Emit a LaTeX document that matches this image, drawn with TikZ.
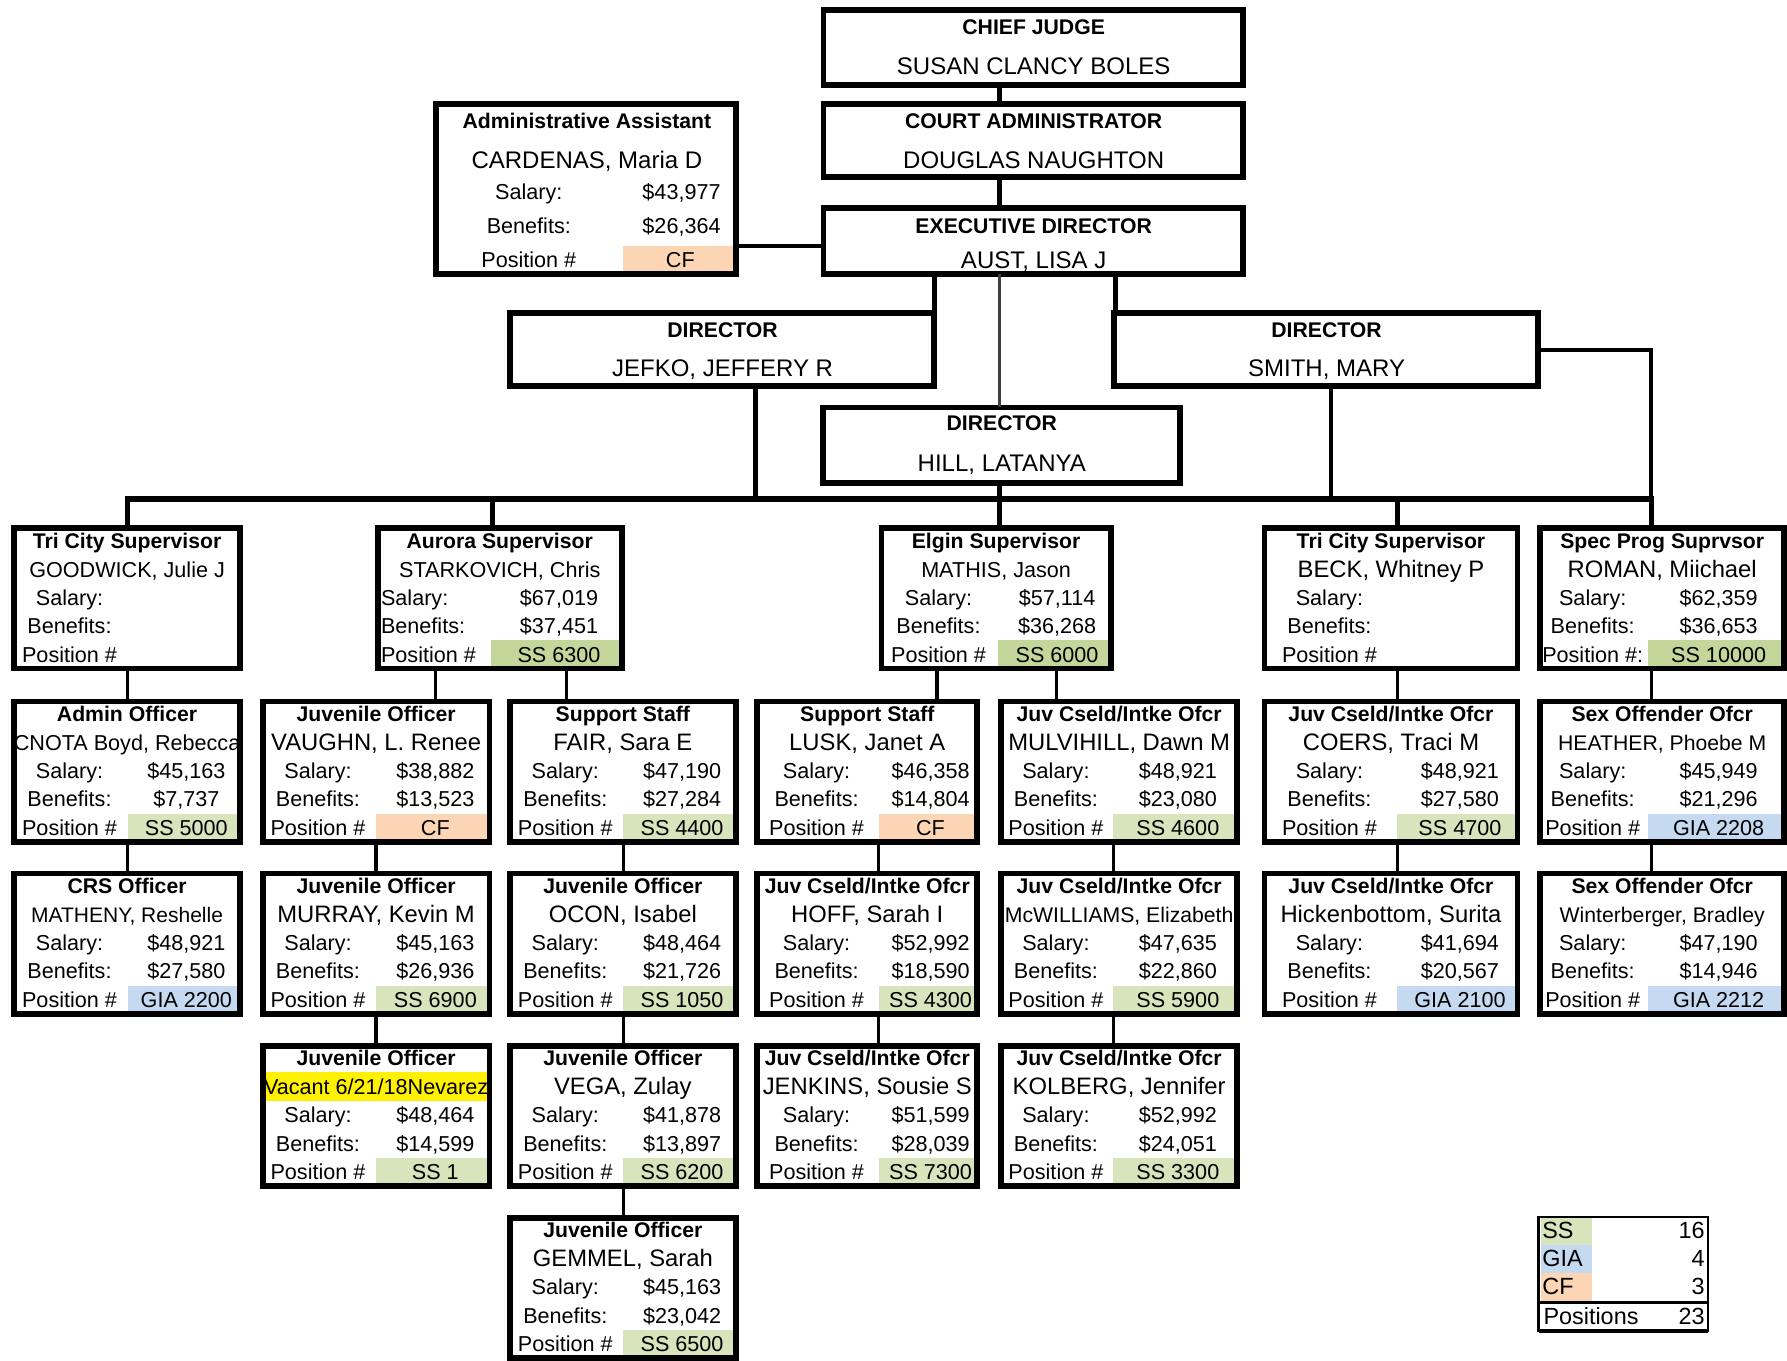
\documentclass[tikz,border=0pt]{standalone}
\usepackage{fontspec}
\setmainfont{Liberation Sans}
\definecolor{ssg}{HTML}{D8E4BC}
\definecolor{ssd}{HTML}{C4D79B}
\definecolor{gia}{HTML}{C5D9F1}
\definecolor{cfc}{HTML}{FCD5B4}
\tikzset{
  cardbox/.style={draw, line width=2.9pt, inner sep=0pt, outer sep=0pt},
  ttl/.style={font=\fontsize{10.6}{12}\selectfont\bfseries, inner sep=0pt, anchor=base},
  nm/.style={inner sep=0pt, anchor=base},
  dat/.style={font=\fontsize{10.8}{12}\selectfont, inner sep=0pt, anchor=base},
  topttl/.style={font=\fontsize{10.6}{12}\selectfont\bfseries, inner sep=0pt, anchor=base},
  topname/.style={font=\fontsize{12}{14}\selectfont, inner sep=0pt, anchor=base},
  lgd/.style={font=\fontsize{11.7}{13}\selectfont, inner sep=0pt},
  conn/.style={line width=1.7pt},
  drop/.style={line width=2.5pt},
  midconn/.style={line width=2pt},
  hairconn/.style={line width=1.2pt, black!75},
  busline/.style={line width=2.9pt},
}
\newcommand\geom[5]{\def\bn{#1}\def\bxa{#2}\def\bxc{#3}\def\bxb{#4}\def\byt{#5}}
\newcommand\card[9]{%
  \pgfmathsetmacro\bw{(\bxb-\bxa-5)*0.5698}%
  \pgfmathsetmacro\bh{123*0.5698}%
  \pgfmathsetmacro\bcx{(\bxa+\bxb)/2}%
  \pgfmathsetmacro\lcx{(\bxa+\bxc)/2}%
  \pgfmathsetmacro\rcx{(\bxc+\bxb+2)/2}%
  \pgfmathsetmacro\ymid{\byt+64}%
  \def\tmp{#9}%
  \ifx\tmp\empty\def\labpos{\lcx}\def\labanc{base}\else\def\labpos{#9}\def\labanc{base west}\fi
  \fill[#8] (\bxc,\byt+101) rectangle (\bxb-4,\byt+125);
  \node[cardbox, minimum width=\bw pt, minimum height=\bh pt] (\bn) at (\bcx,\ymid) {};
  \node[ttl] (\bn-t) at (\bcx,\byt+20) {#1};
  \node[nm, font=\fontsize{#3}{#3}\selectfont] (\bn-n) at (\bcx,\byt+45.5) {#2};
  \node[dat, anchor=\labanc] (\bn-sl) at (\labpos,\byt+70) {Salary:};
  \node[dat] (\bn-sv) at (\rcx,\byt+70) {#4};
  \node[dat, anchor=\labanc] (\bn-bl) at (\labpos,\byt+95) {Benefits:};
  \node[dat] (\bn-bv) at (\rcx,\byt+95) {#5};
  \node[dat, anchor=\labanc] (\bn-pl) at (\labpos,\byt+120) {#6};
  \node[dat] (\bn-pv) at (\rcx,\byt+120) {#7};
}
\begin{document}
\begin{tikzpicture}[x=0.5698pt,y=-0.5698pt]
\useasboundingbox (0,0) rectangle (1568,1194);
\fill[white] (0,0) rectangle (1568,1194);

% ---- top boxes
\node[cardbox, minimum width=209.7pt, minimum height=37.6pt] (chief) at (906.5,41.5) {};
\node[topttl] (chief-t) at (907,30) {CHIEF JUDGE};
\node[topname] (chief-n) at (907,65.5) {SUSAN CLANCY BOLES};

\node[cardbox, minimum width=209.7pt, minimum height=36.5pt] (court) at (906.5,123.5) {};
\node[topttl] (court-t) at (907,113) {COURT ADMINISTRATOR};
\node[topname] (court-n) at (907,147.5) {DOUGLAS NAUGHTON};

\node[cardbox, minimum width=209.7pt, minimum height=33.1pt] (exec) at (906.5,211.5) {};
\node[topttl] (exec-t) at (907,205) {EXECUTIVE DIRECTOR};
\node[topname] (exec-n) at (907,235.5) {AUST, LISA J};

\fill[cfc] (547,216) rectangle (644,240);
\node[cardbox, minimum width=149.9pt, minimum height=84.9pt] (asst) at (514,166) {};
\node[topttl] (asst-t) at (515,113) {Administrative Assistant};
\node[topname] (asst-n) at (515,147.5) {CARDENAS, Maria D};
\node[dat] (asst-sl) at (464,175) {Salary:};
\node[dat] (asst-sv) at (598,175) {\$43,977};
\node[dat] (asst-bl) at (464,205) {Benefits:};
\node[dat] (asst-bv) at (598,205) {\$26,364};
\node[dat] (asst-pl) at (464,235) {Position \#};
\node[dat] (asst-pv) at (597,235) {CF};

\node[cardbox, minimum width=212pt, minimum height=36.5pt] (jefko) at (633.5,306.5) {};
\node[topttl] (jefko-t) at (634,296) {DIRECTOR};
\node[topname] (jefko-n) at (634,330.5) {JEFKO, JEFFERY R};

\node[cardbox, minimum width=212pt, minimum height=36.5pt] (smith) at (1163.5,306.5) {};
\node[topttl] (smith-t) at (1164,296) {DIRECTOR};
\node[topname] (smith-n) at (1164,330.5) {SMITH, MARY};

\node[cardbox, minimum width=178.4pt, minimum height=37.6pt] (hill) at (879,390.5) {};
\node[topttl] (hill-t) at (879,378) {DIRECTOR};
\node[topname] (hill-n) at (879,413.5) {HILL, LATANYA};

% ---- row 1
\geom{gw}{10}{112}{213}{461}
\card{Tri City Supervisor}{GOODWICK, Julie J}{10.8}{}{}{Position \#}{}{white}{}
\geom{au}{329}{431}{548}{461}
\card{Aurora Supervisor}{STARKOVICH, Chris}{10.8}{\$67,019}{\$37,451}{Position \#}{SS 6300}{ssd}{334}
\geom{el}{771}{876}{977}{461}
\card{Elgin Supervisor}{MATHIS, Jason}{10.8}{\$57,114}{\$36,268}{Position \#}{SS 6000}{ssd}{}
\geom{bk}{1107}{1226}{1334}{461}
\card{Tri City Supervisor}{BECK, Whitney P}{11.9}{}{}{Position \#}{}{white}{}
\geom{ro}{1349}{1446}{1568}{461}
\card{Spec Prog Suprvsor}{ROMAN, Miichael}{11.9}{\$62,359}{\$36,653}{Position \#:}{SS 10000}{ssd}{}

% ---- row 2
\geom{ao}{10}{112}{213}{613}
\card{Admin Officer}{CNOTA Boyd, Rebecca}{10.8}{\$45,163}{\$7,737}{Position \#}{SS 5000}{ssg}{}
\geom{va}{228}{330}{432}{613}
\card{Juvenile Officer}{VAUGHN, L. Renee}{11.9}{\$38,882}{\$13,523}{Position \#}{CF}{cfc}{}
\geom{fa}{445}{547}{648}{613}
\card{Support Staff}{FAIR, Sara E}{11.9}{\$47,190}{\$27,284}{Position \#}{SS 4400}{ssg}{}
\geom{lu}{662}{771}{860}{613}
\card{Support Staff}{LUSK, Janet A}{11.9}{\$46,358}{\$14,804}{Position \#}{CF}{cfc}{}
\geom{mu}{876}{977}{1088}{613}
\card{Juv Cseld/Intke Ofcr}{MULVIHILL, Dawn M}{11.9}{\$48,921}{\$23,080}{Position \#}{SS 4600}{ssg}{}
\geom{co}{1107}{1226}{1334}{613}
\card{Juv Cseld/Intke Ofcr}{COERS, Traci M}{11.9}{\$48,921}{\$27,580}{Position \#}{SS 4700}{ssg}{}
\geom{he}{1349}{1446}{1568}{613}
\card{Sex Offender Ofcr}{HEATHER, Phoebe M}{10.6}{\$45,949}{\$21,296}{Position \#}{GIA 2208}{gia}{}

% ---- row 3
\geom{cr}{10}{112}{213}{764}
\card{CRS Officer}{MATHENY, Reshelle}{10.5}{\$48,921}{\$27,580}{Position \#}{GIA 2200}{gia}{}
\geom{mr}{228}{330}{432}{764}
\card{Juvenile Officer}{MURRAY, Kevin M}{11.9}{\$45,163}{\$26,936}{Position \#}{SS 6900}{ssg}{}
\geom{oc}{445}{547}{648}{764}
\card{Juvenile Officer}{OCON, Isabel}{11.9}{\$48,464}{\$21,726}{Position \#}{SS 1050}{ssg}{}
\geom{ho}{662}{771}{860}{764}
\card{Juv Cseld/Intke Ofcr}{HOFF, Sarah I}{11.9}{\$52,992}{\$18,590}{Position \#}{SS 4300}{ssg}{}
\geom{mw}{876}{977}{1088}{764}
\card{Juv Cseld/Intke Ofcr}{McWILLIAMS, Elizabeth}{10.6}{\$47,635}{\$22,860}{Position \#}{SS 5900}{ssg}{}
\geom{hi}{1107}{1226}{1334}{764}
\card{Juv Cseld/Intke Ofcr}{Hickenbottom, Surita}{11.9}{\$41,694}{\$20,567}{Position \#}{GIA 2100}{gia}{}
\geom{wi}{1349}{1446}{1568}{764}
\card{Sex Offender Ofcr}{Winterberger, Bradley}{10.6}{\$47,190}{\$14,946}{Position \#}{GIA 2212}{gia}{}

% ---- row 4
\fill[yellow] (231,941) rectangle (429,966);
\geom{vc}{228}{330}{432}{915}
\card{Juvenile Officer}{Vacant 6/21/18Nevarez}{10.8}{\$48,464}{\$14,599}{Position \#}{SS 1}{ssg}{}
\geom{ve}{445}{547}{648}{915}
\card{Juvenile Officer}{VEGA, Zulay}{11.9}{\$41,878}{\$13,897}{Position \#}{SS 6200}{ssg}{}
\geom{je}{662}{771}{860}{915}
\card{Juv Cseld/Intke Ofcr}{JENKINS, Sousie S}{11.9}{\$51,599}{\$28,039}{Position \#}{SS 7300}{ssg}{}
\geom{ko}{876}{977}{1088}{915}
\card{Juv Cseld/Intke Ofcr}{KOLBERG, Jennifer}{11.9}{\$52,992}{\$24,051}{Position \#}{SS 3300}{ssg}{}

% ---- row 5
\geom{ge}{445}{547}{648}{1066}
\card{Juvenile Officer}{GEMMEL, Sarah}{11.9}{\$45,163}{\$23,042}{Position \#}{SS 6500}{ssg}{}

% ---- connectors (top)
\draw[drop] (chief.south -| 877,0) -- (court.north -| 877,0);
\draw[drop] (court.south -| 877,0) -- (exec.north -| 877,0);
\draw[conn] (asst.east |- 0,216) -- (exec.west |- 0,216);
\draw[drop] (exec.south -| 820,0) -- (jefko.north -| 820,0);
\draw[drop] (exec.south -| 979,0) -- (smith.north -| 979,0);
\draw[hairconn] (exec.south -| 877,0) -- (hill.north -| 877,0);

\coordinate (busL) at (110,438);
\coordinate (busR) at (1451,438);
\coordinate (smithc) at (1449,307);
\draw[busline] (busL) -- (busR);
\draw[drop] (jefko.south -| 663,0) -- (busL -| 663,0);
\draw[drop] (hill.south -| 877,0) -- (busL -| 877,0);
\draw[midconn] (smith.south -| 1168,0) -- (busL -| 1168,0);
\draw[midconn] (smith.east |- smithc) -- (smithc) -- (busR -| smithc);

% bus drops
\draw[drop] (busL -| 112,0) -- (gw.north -| 112,0);
\draw[drop] (busL -| 432,0) -- (au.north -| 432,0);
\draw[drop] (busL -| 877,0) -- (el.north -| 877,0);
\draw[drop] (busL -| 1226,0) -- (bk.north -| 1226,0);
\draw[drop] (busL -| 1449,0) -- (ro.north -| 1449,0);

% row 1 -> 2
\draw[conn] (gw.south -| 112,0) -- (ao.north -| 112,0);
\draw[conn] (au.south -| 382,0) -- (va.north -| 382,0);
\draw[conn] (au.south -| 497,0) -- (fa.north -| 497,0);
\draw[conn] (el.south -| 822,0) -- (lu.north -| 822,0);
\draw[conn] (el.south -| 927,0) -- (mu.north -| 927,0);
\draw[conn] (bk.south -| 1226,0) -- (co.north -| 1226,0);
\draw[conn] (ro.south -| 1449,0) -- (he.north -| 1449,0);

% row 2 -> 3
\draw[conn] (ao.south -| 112,0) -- (cr.north -| 112,0);
\draw[conn] (va.south -| 330,0) -- (mr.north -| 330,0);
\draw[conn] (fa.south -| 547,0) -- (oc.north -| 547,0);
\draw[conn] (lu.south -| 771,0) -- (ho.north -| 771,0);
\draw[conn] (mu.south -| 977,0) -- (mw.north -| 977,0);
\draw[conn] (co.south -| 1226,0) -- (hi.north -| 1226,0);
\draw[conn] (he.south -| 1449,0) -- (wi.north -| 1449,0);

% row 3 -> 4
\draw[conn] (mr.south -| 330,0) -- (vc.north -| 330,0);
\draw[conn] (oc.south -| 547,0) -- (ve.north -| 547,0);
\draw[conn] (ho.south -| 771,0) -- (je.north -| 771,0);
\draw[conn] (mw.south -| 977,0) -- (ko.north -| 977,0);

% row 4 -> 5
\draw[conn] (ve.south -| 547,0) -- (ge.north -| 547,0);

% ---- legend
\fill[ssg] (1352,1069) rectangle (1397,1092);
\fill[gia] (1352,1092) rectangle (1397,1117);
\fill[cfc] (1352,1117) rectangle (1397,1142);
\draw[line width=1.1pt] (1350,1068) rectangle (1499,1168);
\draw[line width=1.7pt] (1350,1143) -- (1499,1143);
\draw[line width=1.7pt] (1350,1168) -- (1499,1168);
\node[lgd, anchor=base west] (lg-ss) at (1353,1087) {SS};
\node[lgd, anchor=base east] (lg-ssn) at (1496,1087) {16};
\node[lgd, anchor=base west] (lg-gia) at (1353,1111) {GIA};
\node[lgd, anchor=base east] (lg-gian) at (1496,1111) {4};
\node[lgd, anchor=base west] (lg-cf) at (1353,1136) {CF};
\node[lgd, anchor=base east] (lg-cfn) at (1496,1136) {3};
\node[lgd, anchor=base west] (lg-pos) at (1354,1162) {Positions};
\node[lgd, anchor=base east] (lg-posn) at (1496,1162) {23};
\end{tikzpicture}
\end{document}
